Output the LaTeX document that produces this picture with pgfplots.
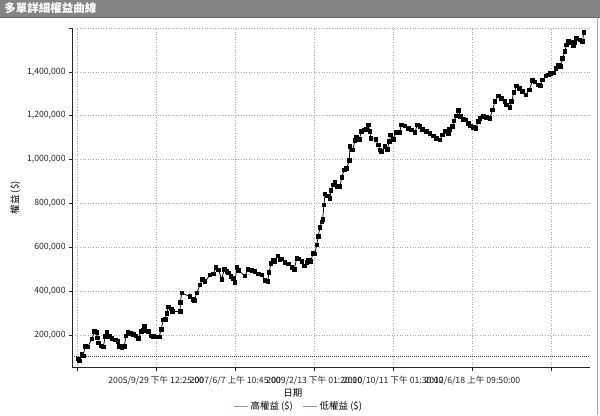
\documentclass[border=0pt]{standalone}
\usepackage{pgfplots}
\pgfplotsset{compat=1.18}
\usepackage{fontspec}
\setmainfont{Noto Sans CJK TC}
\definecolor{titlegray}{RGB}{132,132,132}
\definecolor{legteal}{RGB}{120,170,162}
\definecolor{legred}{RGB}{196,128,112}
\begin{document}
\begin{tikzpicture}[x=1pt,y=1pt]
\fill[white] (0,0) rectangle (600,415);
\fill[titlegray] (0,398) rectangle (600,415);
\draw[black!60] (0,398) -- (600,398);
\draw[black!35] (597,0) -- (597,398);
\node[anchor=west, text=white, font=\fontsize{11.5}{13}\selectfont\bfseries, inner sep=0pt] at (4,406.5) {多單詳細權益曲線};
\begin{axis}[
  at={(72pt,47pt)}, anchor=south west,
  scale only axis, width=518pt, height=340pt,
  xmin=-5, xmax=513, ymin=50000, ymax=1600000,
  axis x line*=bottom, axis y line*=left,
  axis line style={black!85, line width=0.6pt},
  tick align=outside, major tick length=3pt,
  tick style={black!85, line width=0.5pt},
  xtick={0,79.1,158.2,237.3,316.4,395.5,474.6},
  xticklabels={,{2005/9/29 下午 12:25:00},{2007/6/7 上午 10:45:00},{2009/2/13 下午 01:20:00},{2010/10/11 下午 01:30:00},{2012/6/18 上午 09:50:00},},
  ytick={200000,400000,600000,800000,1000000,1200000,1400000,1600000},
  yticklabels={{200,000},{400,000},{600,000},{800,000},{1,000,000},{1,200,000},{1,400,000},{}},
  scaled y ticks=false,
  /pgf/number format/assume math mode=true,
  ticklabel style={font=\fontsize{8.7}{10}\selectfont, text=black!85},
  xticklabel style={yshift=-2pt},
  grid=major,
  grid style={gray!65, line width=0.5pt, dash pattern=on 1pt off 1.6pt},
  xlabel={日期},
  xlabel style={at={(axis description cs:0.4266,-0.0735)}, anchor=center, font=\fontsize{9.5}{11}\selectfont},
  ylabel={權益 (\$)},
  ylabel style={at={(axis description cs:-0.11,0.5)}, anchor=center, font=\fontsize{9.5}{11}\selectfont},
  legend style={at={(0.438,-0.1147)}, anchor=center, draw=none, fill=none,
    font=\fontsize{9.5}{11}\selectfont, legend columns=2,
    /tikz/every even column/.append style={column sep=8pt}},
  legend image code/.code={\draw[#1] (0pt,0pt) -- (14pt,0pt);},
]
\addplot[black!75, line width=0.7pt, dash pattern=on 1pt off 1pt, forget plot] coordinates {(-5,100000) (513,100000)};
\addplot[black, line width=0.75pt, mark=square*, mark size=1.8pt, forget plot] table {
x y
1.3 90000
2 82000
4.7 114000
6 105000
8 147000
10.7 146000
14.7 182000
17.3 215000
19.7 211000
20.3 187000
21.3 164000
24 150000
26.3 146000
28 193000
29.7 211000
32 193000
34.7 185000
38 178000
40.7 170000
42 147000
44.7 144000
47.3 147000
48.7 196000
50.7 211000
53 208000
56.3 202000
58.7 196000
61.3 185000
64 215000
66.3 223000
67.3 238000
69 219000
71.3 215000
74 196000
76.3 193000
79.7 190000
82 190000
84 226000
86.3 269000
88 272000
89.7 299000
91.3 327000
94 318000
95.3 307000
103 307000
103.2 348000
104.7 391000
113 375000
115.7 363000
117.3 357000
119.7 392000
123 428000
125.5 454000
128 443000
133 474000
136.3 479000
138.7 509000
141.3 497000
144.7 454000
147.3 500000
149.7 489000
151.3 482000
154 466000
156.3 459000
158 439000
159.7 509000
161.3 494000
168 469000
170.7 500000
174.7 494000
178 489000
181.3 479000
184.7 474000
188 448000
190.7 443000
192 484000
194 527000
196.3 542000
198 535000
200.7 561000
203 542000
204.7 546000
208 530000
211.3 524000
214.7 509000
217.3 500000
219.7 550000
222 546000
224.7 535000
227.3 515000
229.7 530000
231.3 542000
233.5 535000
236.3 573000
238 570000
239.7 611000
241.3 649000
243 691000
244.7 716000
245.7 728000
247 793000
248 843000
250.3 834000
253 824000
254 858000
256.3 884000
258 895000
259.7 877000
263 877000
264.7 919000
267.3 953000
269.7 960000
272.3 995000
273 1059000
275.7 1044000
278 1086000
279.7 1100000
282.3 1093000
284.7 1127000
287 1135000
289.7 1138000
291.3 1158000
293 1127000
294 1097000
299 1093000
301.3 1067000
303 1044000
304.7 1036000
308 1059000
310.3 1047000
312.3 1082000
313.7 1112000
316.3 1093000
319 1123000
322.3 1123000
324.7 1158000
328 1153000
331.3 1143000
334.7 1135000
338 1123000
340.3 1158000
343 1150000
345.7 1138000
349.7 1127000
353 1120000
356.3 1108000
359.7 1097000
363 1089000
365.7 1112000
368 1127000
371.3 1120000
372.3 1138000
375.7 1150000
377 1177000
379.7 1199000
381.3 1223000
383.7 1196000
386.3 1184000
389 1181000
391.3 1166000
393.7 1153000
396.3 1147000
399 1143000
401.3 1173000
403 1188000
406.3 1196000
409.7 1193000
413 1188000
415.7 1226000
418 1264000
421.3 1290000
424.7 1280000
428 1264000
429.7 1249000
433 1239000
434.7 1264000
437 1305000
439.7 1336000
442.3 1325000
445.7 1310000
449 1295000
452.3 1317000
455.7 1360000
458 1355000
461.3 1340000
463.7 1336000
465.7 1363000
469 1381000
471.3 1386000
473.7 1394000
476.3 1396000
479 1416000
481.3 1431000
483.7 1424000
485.7 1462000
488 1492000
489.7 1523000
491.3 1542000
493.7 1533000
496.3 1518000
498 1533000
499.7 1553000
503 1545000
505.7 1538000
507 1579000
};
\addlegendimage{color=legteal, line width=0.8pt}
\addlegendentry{高權益 (\$)}
\addlegendimage{color=legred, line width=0.8pt}
\addlegendentry{低權益 (\$)}
\end{axis}
\end{tikzpicture}
\end{document}
